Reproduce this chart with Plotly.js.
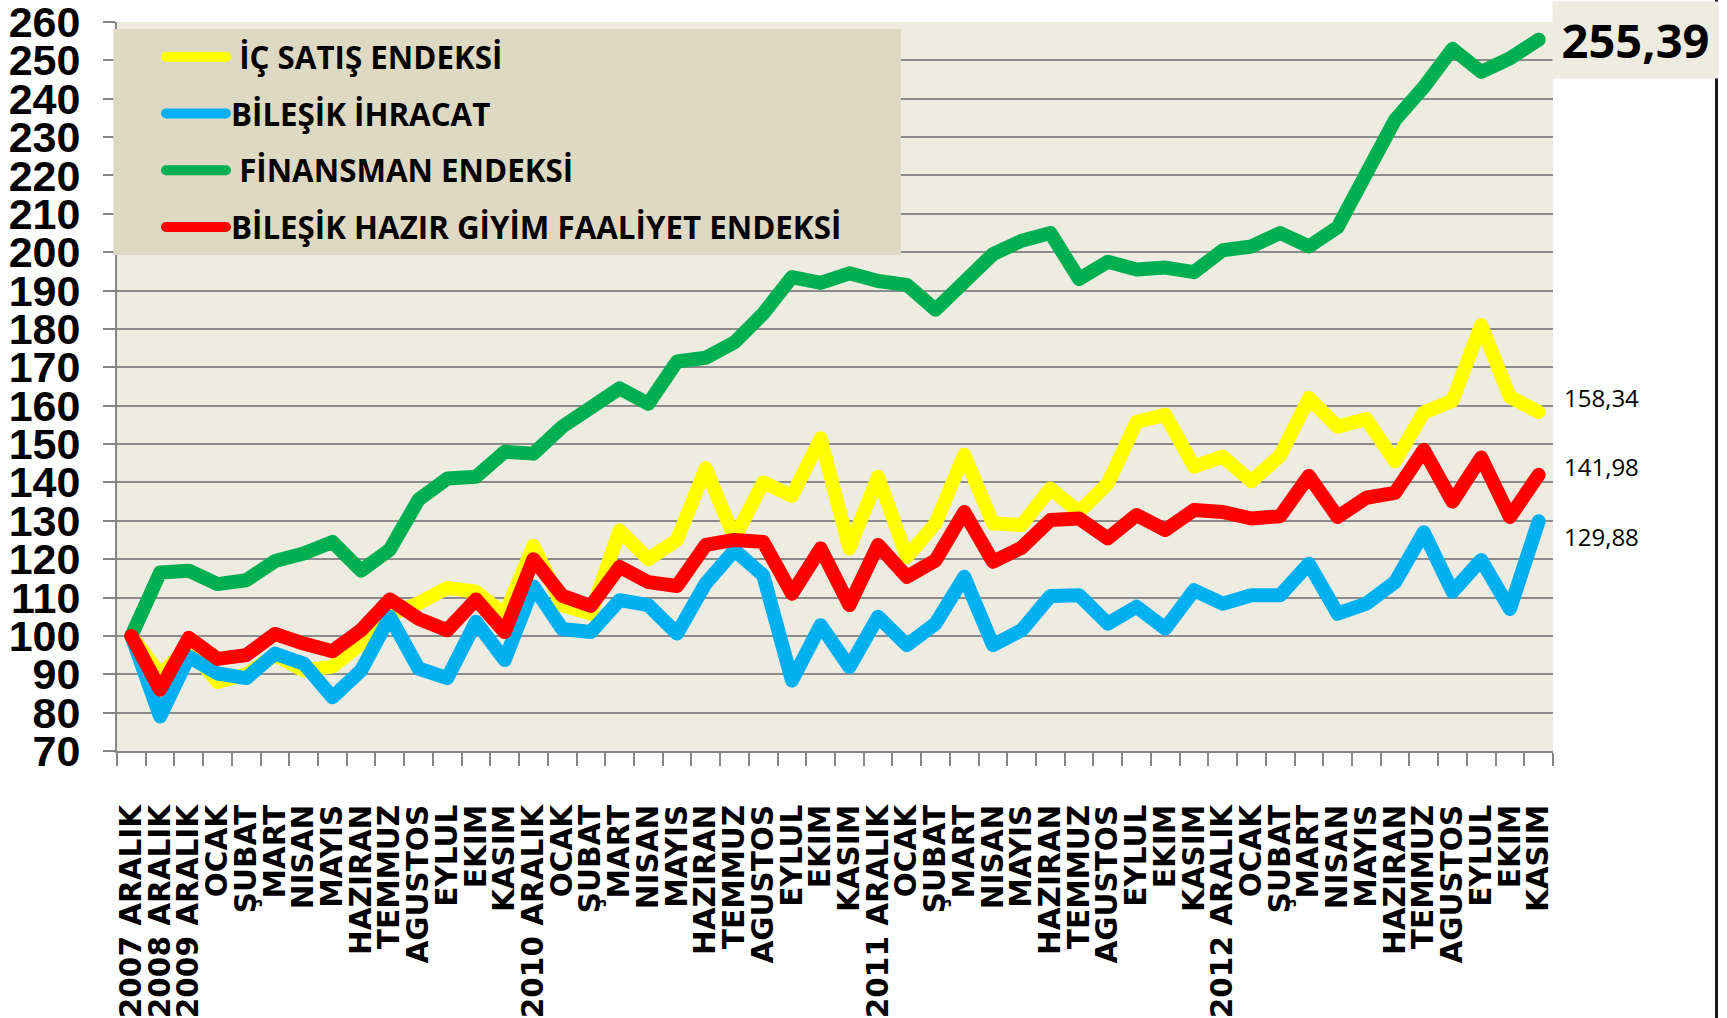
<!DOCTYPE html>
<html><head><meta charset="utf-8">
<script src="https://cdn.plot.ly/plotly-3.0.1.min.js"></script>
<style>
html,body{margin:0;padding:0;background:#fff;}
#chart{width:1727px;height:1018px;}
.scatterlayer .js-line, .legend .js-line{stroke-linecap:round !important;stroke-linejoin:round !important;}
</style></head><body><div id="chart"></div>
<script>
const categories = [
  "2007 ARALIK","2008 ARALIK","2009 ARALIK","OCAK","ŞUBAT","MART","NISAN","MAYIS","HAZIRAN","TEMMUZ","AGUSTOS","EYLUL","EKIM","KASIM",
  "2010 ARALIK","OCAK","ŞUBAT","MART","NISAN","MAYIS","HAZIRAN","TEMMUZ","AGUSTOS","EYLUL","EKIM","KASIM",
  "2011 ARALIK","OCAK","ŞUBAT","MART","NISAN","MAYIS","HAZIRAN","TEMMUZ","AGUSTOS","EYLUL","EKIM","KASIM",
  "2012 ARALIK","OCAK","ŞUBAT","MART","NISAN","MAYIS","HAZIRAN","TEMMUZ","AGUSTOS","EYLUL","EKIM","KASIM"
];
const icSatis = [100,90,97,88,90,95,91,92,98,105.5,108.5,112.5,111.5,105.5,123.5,108,105.8,127.5,120,125,
  143.7,125.5,140,136.5,151.5,122.8,141.5,120.6,129.3,147.2,129.3,128.9,138.4,132.3,139.7,155.8,157.6,144.1,146.7,140.3,
  147,162,154.5,156.5,145.5,158.2,161.3,181,162.3,158.34];
const ihracat = [100,79,94.6,90.2,89,95.4,92.8,84,91,105,91.5,89,103.7,93.7,112.9,101.8,101,109.3,108,100.6,
  113.7,122.3,115.8,88.4,102.8,91.9,105,97.6,103.2,115.4,97.6,101.5,110.4,110.6,103.2,107.6,101.9,111.9,108.4,110.6,
  110.6,118.8,105.8,108.4,114,127,111.5,119.8,107,129.88];
const finansman = [100,116.5,117,113.5,114.5,119.5,121.5,124.5,117,122.5,135.5,141,141.5,148,147.5,154.5,159.5,164.5,160.5,171.5,
  172.5,176.5,184,193.5,192,194.5,192.5,191.5,185,192,199.5,203,205,193,197.5,195.5,196,194.8,200.5,201.5,
  205,201.5,206.5,220.5,234.5,243,253,247,250.5,255.39];
const hazirGiyim = [100,86,99.5,94,95,100.5,98,96,101.5,109.5,104.5,101.5,109.5,101,120,110.5,107.8,118,114,113,
  123.7,125,124.5,111,122.8,108,123.7,115.4,119.7,132.3,119.3,123,130.2,130.6,125.4,131.5,127.6,132.8,132.3,130.6,
  131.2,141.7,131,136,137.3,148.5,135,146.5,131,141.98];
const seriesNames = ["\u00a0İÇ SATIŞ ENDEKSİ","BİLEŞİK İHRACAT","\u00a0FİNANSMAN ENDEKSİ","BİLEŞİK HAZIR GİYİM FAALİYET ENDEKSİ"];
const seriesColors = ["#FFFF00","#00B0F0","#00B050","#FF0000"];
const yTicks = [70,80,90,100,110,120,130,140,150,160,170,180,190,200,210,220,230,240,250,260];

const idx = categories.map((c,i)=>i);
const allSeries = [icSatis, ihracat, finansman, hazirGiyim];
const traces = allSeries.map((vals,k)=>({
  type:'scatter', mode:'lines', x: idx, y: vals, name: seriesNames[k],
  legendgroup: 'g'+k,
  line:{color: seriesColors[k], width: 14},
  hoverinfo:'skip'
}));

// plot area in pixels
const W=1727, H=1018, PL=117, PR=1553, PT=22, PB=751;
const px = x => (x-PL)/(PR-PL);
const py = y => (PB-y)/(PB-PT);
const last = categories.length-1;
const fmt = v => v.toFixed(2).replace('.', ',');

const layout = {
  width: W, height: H,
  margin:{l:PL, r:W-PR, t:PT, b:H-PB, pad:0},
  paper_bgcolor:'#ffffff', plot_bgcolor:'#EEECE1',
  showlegend:true,
  legend:{x:px(161), y:py(30), xanchor:'left', yanchor:'top', bgcolor:'rgba(0,0,0,0)', borderwidth:0,
    font:{family:'Open Sans', size:31.3, weight:700, color:'#000'}, itemwidth:60, tracegroupgap:13,
    traceorder:'grouped'},
  xaxis:{range:[-0.5, last+0.5], tickmode:'array', tickvals: idx, ticktext: categories, tickangle:-90,
    tickfont:{family:'DejaVu Sans', size:29.5, weight:700, color:'#000'},
    ticks:'', showline:true, linecolor:'#868686', linewidth:2, showgrid:false, zeroline:false,
    ticklabelstandoff:40,
    minor:{tickmode:'linear', tick0:-0.5, dtick:1, ticks:'outside', ticklen:13, tickcolor:'#868686', tickwidth:2, showgrid:false}},
  yaxis:{range:[70,260], tickmode:'array', tickvals:yTicks, ticktext:yTicks.map(String),
    ticks:'outside', ticklen:12, tickwidth:2, tickcolor:'#868686', ticklabeloverflow:'allow',
    showline:true, linecolor:'#868686', linewidth:2, showgrid:true, gridcolor:'#8c8c8c', gridwidth:2, zeroline:false,
    tickfont:{family:'Liberation Sans, Arial', size:43, weight:700, color:'#000'}, ticklabelstandoff:14},
  shapes:[
    {type:'rect', xref:'paper', yref:'paper', x0:px(113.3), x1:px(901), y0:py(255), y1:py(29),
     fillcolor:'#DDD9C3', line:{width:0}, layer:'above'},
    {type:'line', xref:'paper', yref:'paper', x0:px(1716.5), x1:px(1716.5), y0:py(H), y1:py(0),
     line:{color:'#1a1a1a', width:3}}
  ],
  annotations:[
    {x:last, y:finansman[last], xref:'x', yref:'y', text:fmt(finansman[last]), showarrow:false,
     xanchor:'left', yanchor:'middle', xshift:13, width:163, height:74, bgcolor:'#EEECE1',
     font:{family:'Open Sans', size:47, weight:700, color:'#000'}},
    {x:last, y:icSatis[last], xref:'x', yref:'y', text:fmt(icSatis[last]), showarrow:false,
     xanchor:'left', yanchor:'middle', xshift:23, yshift:15, font:{family:'Open Sans', size:24, color:'#000'}},
    {x:last, y:hazirGiyim[last], xref:'x', yref:'y', text:fmt(hazirGiyim[last]), showarrow:false,
     xanchor:'left', yanchor:'middle', xshift:23, yshift:8, font:{family:'Open Sans', size:24, color:'#000'}},
    {x:last, y:ihracat[last], xref:'x', yref:'y', text:fmt(ihracat[last]), showarrow:false,
     xanchor:'left', yanchor:'middle', xshift:23, yshift:-15, font:{family:'Open Sans', size:24, color:'#000'}}
  ]
};
Plotly.newPlot('chart', traces, layout, {displayModeBar:false, staticPlot:true});
</script></body></html>
